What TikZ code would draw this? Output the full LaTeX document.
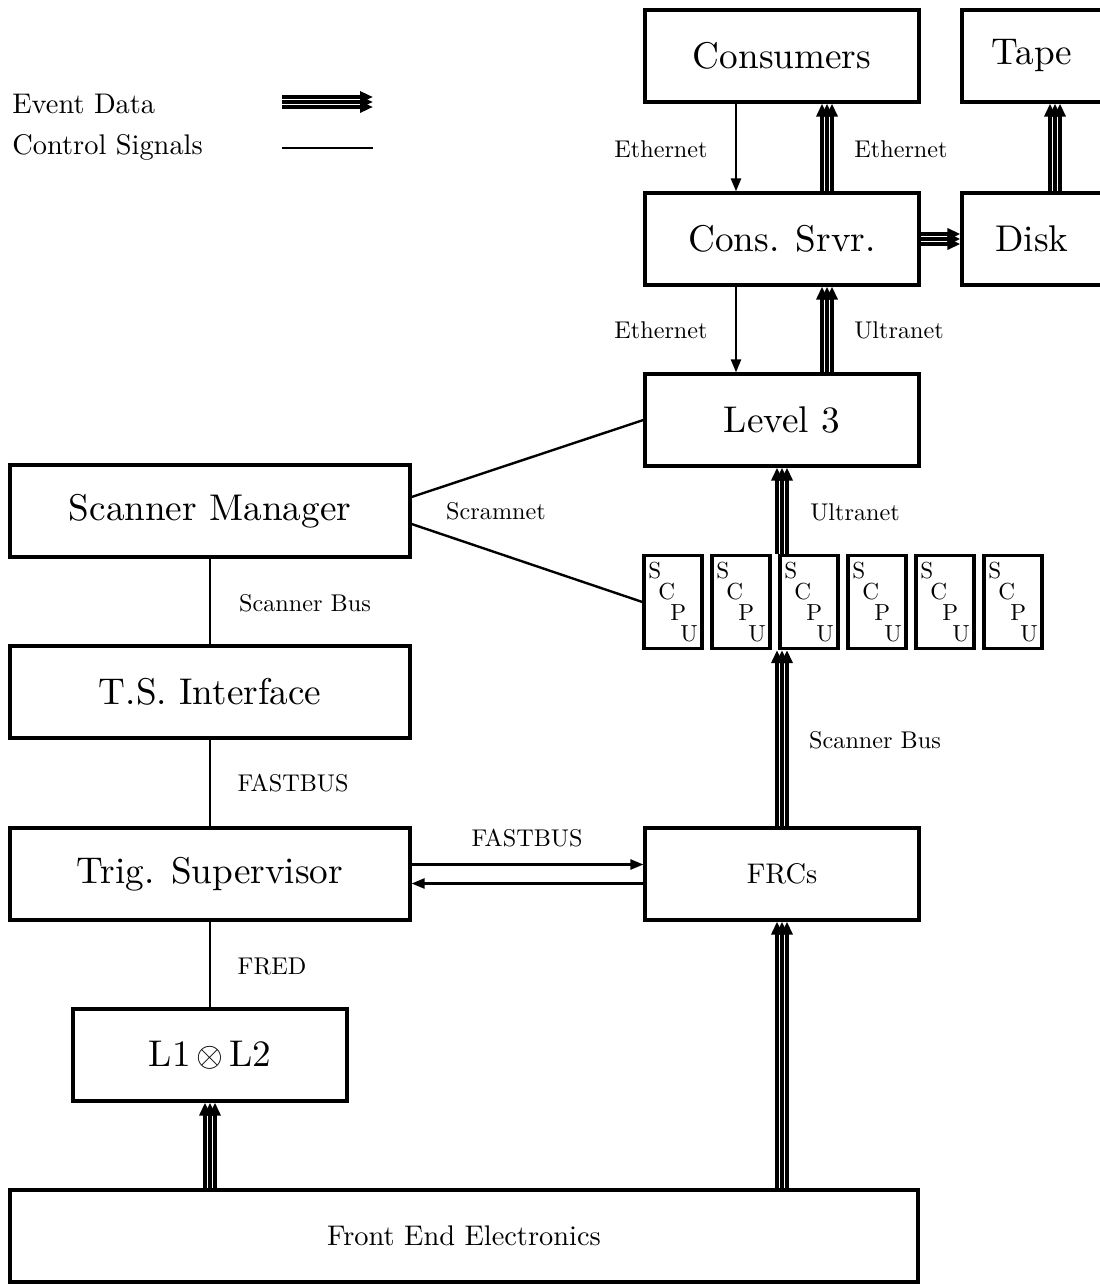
\documentclass[tikz,border=0pt]{standalone}
\usepackage{fontspec}
\setmainfont{lmroman10-regular.otf}
\usetikzlibrary{arrows.meta}
\newcommand\evt[3]{\foreach \d in {-2.5,0,2.5}{\draw[evl] ([#1=\d pt]#2) -- ([#1=\d pt]#3);}}
\begin{document}
\begin{tikzpicture}[x=0.5pt,y=-0.5pt,
  box/.style={draw,line width=1.6pt,minimum height=46pt,inner sep=0pt,font=\fontsize{18.6}{22}\selectfont},
  sbox/.style={box,font=\fontsize{14.2}{17}\selectfont},
  cpu/.style={draw,line width=1.6pt,minimum width=29pt,minimum height=46.5pt,inner sep=0pt,align=left,font=\fontsize{11.6}{10.6}\selectfont},
  lbl/.style={inner sep=1pt,font=\fontsize{12.1}{14}\selectfont},
  leg/.style={inner sep=0pt,font=\fontsize{14.2}{17}\selectfont},
  ctl/.style={line width=1.2pt},
  cta/.style={ctl,-{Triangle[length=6.5pt,width=5pt]}},
  evl/.style={line width=1.6pt,-{Triangle[length=6.5pt,width=5.5pt]}}]
\useasboundingbox (0,0) rectangle (1099,1284);
% boxes
\node[box,minimum width=137pt] (cons) at (782,56) {Consumers};
\node[box,minimum width=70pt] (tape) at (1032,56) {Tape};
\node[box,minimum width=137pt] (csrv) at (782,239) {Cons. Srvr.};
\node[box,minimum width=70pt] (disk) at (1032,239) {Disk};
\node[box,minimum width=137pt] (l3) at (782,420) {Level 3};
\node[box,minimum width=200pt] (sm) at (210,511) {Scanner Manager};
\node[box,minimum width=200pt] (tsi) at (210,692) {T.S. Interface};
\node[box,minimum width=200pt] (trig) at (210,874) {Trig. Supervisor};
\node[sbox,minimum width=137pt] (frc) at (782,874) {FRCs};
\node[box,minimum width=137pt] (l1) at (210,1055) {L1$\,\otimes\,$L2};
\node[sbox,minimum width=454pt] (fee) at (464,1236) {Front End Electronics};
\foreach \i in {1,...,6}{
  \node[cpu] (s\i) at ({673+68*(\i-1)},602) {S\\\hspace*{5pt}C\\\hspace*{11pt}P\\\hspace*{16pt}U};
}
% legend
\node[leg,anchor=base west] (led) at (12,113) {Event Data};
\node[leg,anchor=base west] (lcs) at (12,155) {Control Signals};
\coordinate (le1) at (282,102);
\coordinate (le2) at (373,102);
\coordinate (lc1) at (282,148);
\coordinate (lc2) at (373,148);
\evt{yshift}{le1}{le2}
\draw[ctl] (lc1) -- (lc2);
% control connections
\draw[cta] ([xshift=-23pt]cons.south) -- ([xshift=-23pt]csrv.north);
\draw[cta] ([xshift=-23pt]csrv.south) -- ([xshift=-23pt]l3.north);
\draw[ctl] ([yshift=7pt]sm.east) -- (l3.west);
\draw[ctl] ([yshift=-6.5pt]sm.east) -- (s1.west);
\draw[ctl] (sm) -- (tsi);
\draw[ctl] (tsi) -- (trig);
\draw[ctl] (trig) -- (l1);
\draw[cta] ([yshift=4.75pt]trig.east) -- ([yshift=4.75pt]frc.west);
\draw[cta] ([yshift=-4.75pt]frc.west) -- ([yshift=-4.75pt]trig.east);
% event data connections
\coordinate (a1) at ([xshift=22.5pt]csrv.north);
\coordinate (a2) at ([xshift=22.5pt]cons.south);
\evt{xshift}{a1}{a2}
\coordinate (b1) at ([xshift=22.5pt]l3.north);
\coordinate (b2) at ([xshift=22.5pt]csrv.south);
\evt{xshift}{b1}{b2}
\coordinate (c1) at ([xshift=11.5pt]disk.north);
\coordinate (c2) at ([xshift=11.5pt]tape.south);
\evt{xshift}{c1}{c2}
\coordinate (d1) at (csrv.east);
\coordinate (d2) at (disk.west);
\evt{yshift}{d1}{d2}
\coordinate (e1) at (l3.south |- s3.north);
\coordinate (e2) at (l3.south);
\evt{xshift}{e1}{e2}
\coordinate (f1) at (frc.north);
\coordinate (f2) at (frc.north |- s3.south);
\evt{xshift}{f1}{f2}
\coordinate (g1) at (frc.south |- fee.north);
\coordinate (g2) at (frc.south);
\evt{xshift}{g1}{g2}
\coordinate (h1) at (l1.south |- fee.north);
\coordinate (h2) at (l1.south);
\evt{xshift}{h1}{h2}
% labels
\node[lbl] (t1) at (661,149) {Ethernet};
\node[lbl] (t2) at (901,149) {Ethernet};
\node[lbl] (t3) at (661,330) {Ethernet};
\node[lbl] (t4) at (899,330) {Ultranet};
\node[lbl] (t5) at (496,511) {Scramnet};
\node[lbl] (t6) at (855,512) {Ultranet};
\node[lbl] (t7) at (305,603) {Scanner Bus};
\node[lbl] (t8) at (875,740) {Scanner Bus};
\node[lbl] (t9) at (293,783) {FASTBUS};
\node[lbl] (t10) at (527,838) {FASTBUS};
\node[lbl] (t11) at (272,966) {FRED};
\end{tikzpicture}
\end{document}
